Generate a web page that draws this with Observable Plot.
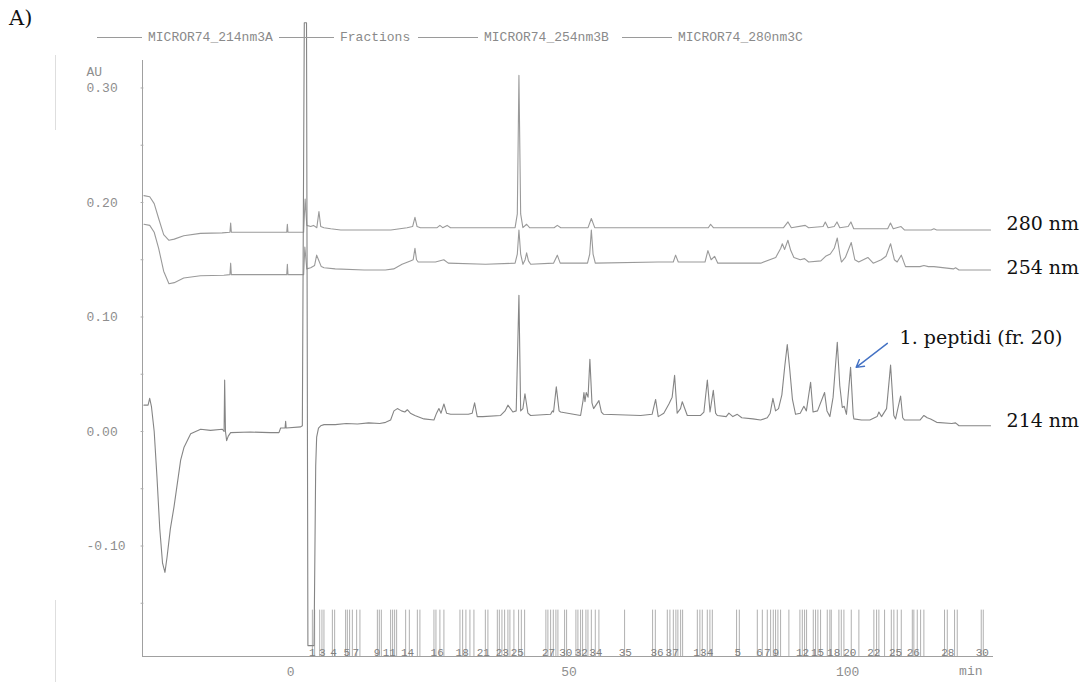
<!DOCTYPE html>
<html><head><meta charset="utf-8">
<script src="https://cdn.jsdelivr.net/npm/d3@7"></script>
<script src="https://cdn.jsdelivr.net/npm/@observablehq/plot@0.6"></script>
<style>
html,body{margin:0;padding:0;background:#fff;}
#wrap{position:relative;width:1082px;height:682px;overflow:hidden;background:#fff;}
#wrap svg{position:absolute;left:0;top:0;}
.mono{font-family:"Liberation Mono","DejaVu Sans Mono",monospace;font-size:13px;color:#8a8a8a;}
.leg{position:absolute;top:28px;display:flex;align-items:center;height:18px;white-space:nowrap;}
.leg .ln{height:1px;background:#9a9a9a;}
</style></head><body><div id="wrap"></div>
<script>
// ---------------- data ----------------
const seriesNames = ["MICROR74_214nm3A", "Fractions", "MICROR74_254nm3B", "MICROR74_280nm3C"];
const traceLabels = ["280 nm", "254 nm", "214 nm"];
const xTicks = [0, 50, 100];
const yTicks = [0.30, 0.20, 0.10, 0.00, -0.10];
const yMinorTicks = [0.25, 0.15, 0.05, -0.05, -0.15];

// [time (min), absorbance (AU)]
const trace280 = [
  [-26.34,0.206],[-25.3,0.205],[-24.5,0.199],[-23.7,0.186],[-22.8,0.172],[-21.85,0.167],[-20.9,0.168],
  [-19.2,0.171],[-16.2,0.173],[-12.3,0.1735],[-10.9,0.174],[-10.77,0.182],[-10.65,0.174],[-5,0.174],
  [-0.7,0.174],[-0.59,0.181],[-0.48,0.174],[2.33,0.174],[2.6,0.203],[2.9,0.18],[3.6,0.179],[4.1,0.180],
  [4.7,0.178],[5.08,0.192],[5.4,0.179],[5.98,0.178],[7.2,0.177],[9,0.176],[13.2,0.176],[18,0.176],
  [20.9,0.178],[21.9,0.179],[22.32,0.187],[22.7,0.179],[23.3,0.178],[26.3,0.178],[26.8,0.180],[27.3,0.178],
  [28.1,0.180],[28.7,0.178],[40.3,0.178],[40.7,0.19],[40.99,0.311],[41.3,0.19],[41.7,0.178],[42.37,0.181],
  [42.9,0.178],[47.3,0.178],[47.88,0.180],[48.5,0.178],[53.4,0.178],[53.99,0.186],[54.6,0.178],[66,0.178],
  [75.0,0.178],[75.4,0.181],[75.9,0.178],[88.5,0.178],[89.3,0.183],[89.9,0.178],[92.4,0.180],[93,0.178],
  [95.6,0.179],[96.0,0.183],[96.5,0.178],[97.6,0.179],[98.1,0.183],[98.6,0.178],[100.1,0.179],[100.6,0.183],
  [101.1,0.177],[107.2,0.177],[107.7,0.182],[108.2,0.177],[109.6,0.179],[110.2,0.176],[115.0,0.176],
  [115.5,0.177],[116.0,0.176],[125.67,0.176]
];
const trace254 = [
  [-26.34,0.181],[-25.3,0.180],[-24.5,0.174],[-23.7,0.160],[-22.8,0.140],[-21.85,0.129],[-20.9,0.130],
  [-19.2,0.134],[-16.2,0.136],[-12,0.1365],[-10.9,0.137],[-10.77,0.147],[-10.65,0.137],[-0.7,0.137],
  [-0.59,0.146],[-0.48,0.137],[2.33,0.137],[2.55,0.161],[2.9,0.142],[3.6,0.143],[4.3,0.145],[4.67,0.154],
  [5.0,0.150],[5.5,0.144],[6.0,0.143],[8,0.142],[13.2,0.141],[17,0.141],[18.5,0.142],[20,0.146],[21.5,0.149],
  [22.0,0.150],[22.32,0.160],[22.6,0.150],[22.9,0.148],[26,0.148],[27.5,0.150],[28.3,0.147],[35,0.146],
  [40.3,0.147],[40.7,0.155],[40.99,0.176],[41.3,0.155],[41.71,0.146],[42.1,0.150],[42.37,0.156],[42.7,0.149],
  [43.1,0.146],[47.2,0.147],[47.88,0.154],[48.4,0.147],[53.3,0.147],[53.7,0.155],[53.99,0.176],[54.3,0.155],
  [54.7,0.147],[66,0.148],[68.7,0.148],[69.12,0.154],[69.6,0.148],[74.4,0.148],[74.92,0.158],[75.5,0.150],
  [76.12,0.153],[76.7,0.147],[84.4,0.147],[87.1,0.152],[88.0,0.160],[88.28,0.164],[88.7,0.159],[89.28,0.167],
  [89.8,0.158],[90.36,0.152],[91.5,0.150],[92.28,0.151],[93,0.148],[95.2,0.149],[96.05,0.153],[96.9,0.155],
  [97.6,0.160],[98.15,0.169],[98.6,0.155],[98.9,0.148],[99.6,0.152],[100.66,0.165],[101.3,0.150],[102,0.148],
  [103.64,0.152],[104.6,0.147],[106.05,0.150],[106.9,0.153],[107.72,0.164],[108.4,0.150],[108.9,0.148],
  [109.64,0.154],[110.4,0.144],[113.0,0.144],[113.7,0.145],[114.5,0.144],[115.5,0.144],[119.0,0.142],
  [119.39,0.143],[120,0.141],[125.67,0.141]
];
const trace214 = [
  [-26.34,0.023],[-25.6,0.023],[-25.31,0.029],[-25.0,0.022],[-24.5,0.0],[-24.0,-0.04],[-23.5,-0.085],
  [-23.0,-0.115],[-22.57,-0.123],[-22.2,-0.110],[-21.6,-0.085],[-20.95,-0.066],[-19.75,-0.025],
  [-19.16,-0.014],[-17.95,-0.002],[-16.16,0.002],[-14.4,0.001],[-12.26,0.002],[-11.95,0.0],[-11.85,0.045],
  [-11.7,0.0],[-11.49,-0.008],[-11.2,-0.004],[-10.77,-0.001],[-7.2,-0.0005],[-3.6,-0.001],[-2.1,-0.001],
  [-1.8,0.003],[-1.0,0.003],[-0.9,0.009],[-0.8,0.003],[1.8,0.004],[2.1,0.005],[2.45,0.357],[2.85,0.357],
  [3.1,-0.187],[4.2,-0.187],[4.5,-0.03],[4.67,-0.005],[5.0,0.003],[5.39,0.005],[6,0.006],[8,0.006],
  [10,0.007],[12,0.0065],[14,0.0075],[16,0.007],[17.06,0.008],[17.95,0.010],[18.55,0.018],[19.16,0.020],
  [19.9,0.018],[20.5,0.017],[20.95,0.019],[21.5,0.016],[22.3,0.014],[23.93,0.011],[25.73,0.010],[26.2,0.016],
  [26.62,0.020],[27.0,0.016],[27.52,0.024],[28.0,0.016],[28.73,0.015],[31.9,0.015],[32.6,0.016],[33.03,0.025],
  [33.5,0.013],[34.5,0.013],[37.7,0.014],[38.5,0.018],[39.01,0.023],[39.9,0.017],[40.5,0.018],[40.99,0.119],
  [41.3,0.018],[41.7,0.020],[42.07,0.033],[42.6,0.016],[43.09,0.014],[46.68,0.015],[47.0,0.018],[47.2,0.017],
  [47.7,0.039],[48.2,0.018],[48.47,0.017],[52.06,0.014],[52.5,0.027],[52.66,0.034],[52.85,0.026],[53.07,0.034],
  [53.4,0.030],[53.73,0.063],[54.1,0.025],[54.4,0.020],[55.35,0.027],[55.8,0.017],[56.19,0.015],[62.84,0.014],
  [64.9,0.015],[65.53,0.028],[66.0,0.013],[67.0,0.016],[67.92,0.024],[68.5,0.030],[68.94,0.049],[69.4,0.016],
  [70.0,0.020],[70.32,0.026],[71.22,0.014],[73.61,0.014],[74.2,0.017],[74.82,0.045],[75.3,0.017],[75.89,0.036],
  [76.3,0.016],[76.61,0.014],[78.2,0.013],[78.69,0.016],[79.4,0.013],[80.2,0.015],[81,0.012],[83,0.011],
  [84.38,0.010],[85.58,0.012],[86.1,0.016],[86.59,0.029],[87.07,0.018],[87.6,0.020],[88.2,0.032],[88.7,0.056],
  [89.17,0.076],[89.6,0.055],[90.1,0.028],[90.66,0.015],[91.5,0.016],[92.15,0.022],[92.6,0.018],[93.36,0.043],
  [93.8,0.017],[94.6,0.018],[95.87,0.034],[96.3,0.018],[96.82,0.013],[97.4,0.030],[98.15,0.078],[98.6,0.040],
  [99.05,0.021],[99.4,0.022],[99.8,0.015],[100.54,0.056],[101.0,0.015],[101.13,0.011],[102.5,0.010],[104,0.010],
  [105.3,0.013],[105.62,0.017],[106.1,0.013],[107.0,0.020],[107.72,0.058],[108.3,0.014],[108.62,0.011],
  [109.52,0.031],[109.9,0.012],[110.23,0.010],[113.0,0.010],[113.7,0.014],[114.3,0.012],[114.9,0.011],
  [116.0,0.008],[118.7,0.007],[119.39,0.0075],[120.0,0.005],[125.67,0.005]
];
const fractionTimes = [3.90,4.31,5.21,5.62,5.98,7.49,7.90,9.87,10.18,10.59,11.08,11.85,12.44,15.57,15.92,16.28,
  17.95,18.31,18.67,19.03,20.65,21.31,22.75,23.21,25.73,26.09,26.80,27.52,30.40,30.88,31.47,32.19,32.91,34.96,
  35.42,37.11,37.47,37.94,38.42,39.01,39.37,40.09,40.93,41.42,42.01,45.83,46.19,46.68,47.16,47.63,47.99,49.19,
  49.55,51.22,51.58,52.06,52.42,53.02,53.38,53.99,54.70,55.35,59.96,64.99,65.48,67.63,68.10,68.71,69.17,69.53,
  70.02,70.38,73.02,73.48,73.91,74.81,75.28,75.71,80.07,80.56,83.79,84.69,85.58,86.18,86.66,87.07,87.49,87.97,
  89.46,91.44,91.87,92.28,92.64,93.84,94.25,94.67,95.15,96.35,96.82,97.07,98.44,98.87,99.34,100.66,102.03,
  104.72,105.21,105.62,106.64,107.85,108.31,108.92,109.64,111.62,111.90,112.51,113.11,113.70,117.41,117.90,
  119.21,119.69,124.00,124.36];
const fractionLabels = ["1","3","4","5","7","9","11","14","16","18","21","23","25","27","30","32","34","35","36","37",
  "1","3","4","5","6","7","9","12","15","18","20","22","25","26","28","30"];
const fractionLabelTimes = [3.9,5.7,7.7,10.1,11.7,15.5,17.7,21.0,26.3,30.8,34.6,38.0,40.7,46.3,49.4,52.2,54.8,60.1,
  65.8,68.5,72.9,74.1,75.3,80.3,84.2,85.6,87.1,91.9,94.6,97.5,100.4,104.7,108.6,111.8,118.0,124.2];
const annotationText = "1. peptidi (fr. 20)";
const annotationPeak = [100.54, 0.056];

// ---------------- chart ----------------
const xDomain = [-26.6, 126.2];
const yDomain = [-0.1965, 0.324];
const grey = "#8e8e8e";
const mono = "Liberation Mono";
const serif = "DejaVu Serif";
const traces = [trace280, trace254, trace214];
const labelDy = [-6, -2, -5];

const plot = Plot.plot({
  width: 1082, height: 682,
  marginLeft: 142, marginRight: 89, marginTop: 60, marginBottom: 26,
  x: {domain: xDomain, axis: null},
  y: {domain: yDomain, axis: null},
  style: {background: "transparent", overflow: "visible"},
  marks: [
    Plot.ruleX([xDomain[0]], {stroke: "#a0a0a0", strokeWidth: 1}),
    Plot.ruleY([yDomain[0]], {stroke: "#a0a0a0", strokeWidth: 1}),
    Plot.ruleY(yTicks.concat(yMinorTicks), {y: d => d, x1: xDomain[0] - 0.25, x2: xDomain[0] + 0.25, stroke: "#aaa"}),
    Plot.text(yTicks, {x: xDomain[0], y: d => d, text: d => d.toFixed(2), textAnchor: "start", dx: -56,
      fontFamily: mono, fontSize: 13, fill: grey}),
    Plot.text(["AU"], {frameAnchor: "top-left", text: d => d, textAnchor: "start", dx: -56, dy: 6,
      fontFamily: mono, fontSize: 13, fill: grey}),
    Plot.text(xTicks, {x: d => d, y: yDomain[0], text: d => String(d), dy: 15,
      fontFamily: mono, fontSize: 13, fill: grey}),
    Plot.text(["min"], {frameAnchor: "bottom-right", text: d => d, textAnchor: "end", dx: -11, dy: 18,
      fontFamily: mono, fontSize: 13, fill: grey}),
    // fractions
    Plot.ruleX(fractionTimes, {x: d => d, y1: yDomain[0], y2: -0.156, stroke: "#b0b0b0", strokeWidth: 1}),
    Plot.text(fractionLabels, {x: (d, i) => fractionLabelTimes[i], y: yDomain[0], text: d => d, dy: -4,
      fontFamily: mono, fontSize: 11, fill: "#808080"}),
    // traces
    ...traces.map((tr, k) => Plot.line(tr, {x: d => d[0], y: d => d[1], stroke: k === 2 ? "#858585" : "#9a9a9a",
      strokeWidth: 1.1, curve: "linear"})),
    ...traces.map((tr, k) => Plot.text([tr[tr.length - 1]], {x: d => d[0], y: d => d[1], text: () => traceLabels[k],
      textAnchor: "start", dx: 16, dy: labelDy[k], fontFamily: serif, fontSize: 19, fill: "#111"})),
    // annotation
    Plot.arrow([annotationPeak], {x1: d => d[0] + 6.6, y1: d => d[1] + 0.021, x2: d => d[0] + 1.0, y2: d => d[1],
      stroke: "#4472c4", strokeWidth: 1.4, headLength: 9}),
    Plot.text([annotationPeak], {x: d => d[0] + 8.8, y: d => d[1] + 0.026, text: () => annotationText,
      textAnchor: "start", fontFamily: serif, fontSize: 19, fill: "#111"})
  ]
});
const wrap = document.getElementById("wrap");
wrap.appendChild(plot);

// page label, scan edge and legend
const a = document.createElement("div");
a.textContent = "A)";
a.style.cssText = "position:absolute;left:9px;top:6px;font-family:'DejaVu Serif',serif;font-size:21px;color:#111;";
wrap.appendChild(a);
[[55, 130], [600, 682]].forEach(([t, b]) => {
  const e = document.createElement("div");
  e.style.cssText = `position:absolute;left:55px;top:${t}px;width:1px;height:${b - t}px;background:#dedede;`;
  wrap.appendChild(e);
});
const legLeft = [97, 279, 418, 622];
const legLine = [45, 55, 60, 50];
seriesNames.forEach((name, i) => {
  const g = document.createElement("div");
  g.className = "leg mono";
  g.style.left = legLeft[i] + "px";
  const ln = document.createElement("div");
  ln.className = "ln"; ln.style.width = legLine[i] + "px"; ln.style.marginRight = "6px";
  const tx = document.createElement("span"); tx.textContent = name;
  g.appendChild(ln); g.appendChild(tx);
  wrap.appendChild(g);
});
</script></body></html>
